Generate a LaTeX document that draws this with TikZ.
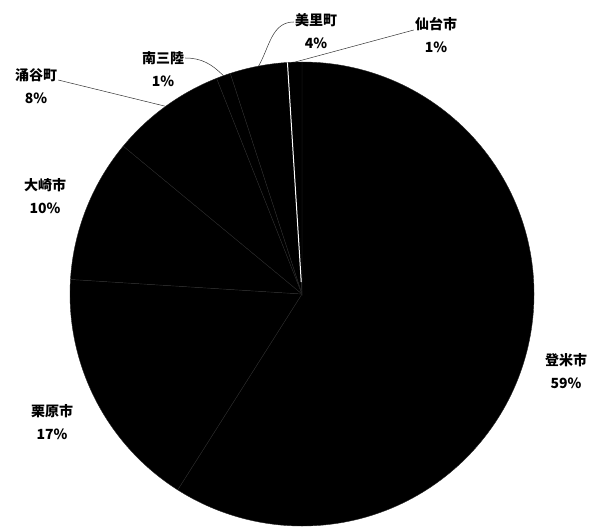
\documentclass[tikz,border=0pt]{standalone}
\usepackage{fontspec}
\usepackage{tikz}
\newfontfamily\jpfont{Noto Sans CJK JP}
\tikzstyle{slice} = [fill=black, draw=black!85, line width=0.4pt]
\tikzstyle{citylabel} = [align=center, inner sep=1pt, font=\jpfont\bfseries\fontsize{14}{23}\selectfont]
\tikzstyle{leader} = [draw=black!80, line width=0.5pt]

\begin{document}
\begin{tikzpicture}[x=1pt, y=-1pt]
  \useasboundingbox (0,0) rectangle (593,529);
  \coordinate (o) at (302,294);

  % slices, clockwise from the top
  \filldraw[slice] (o) -- ++(-90:232) arc[start angle=-90, end angle=122.4, radius=232] -- cycle;
  \filldraw[slice] (o) -- ++(122.4:232) arc[start angle=122.4, end angle=183.6, radius=232] -- cycle;
  \filldraw[slice] (o) -- ++(183.6:232) arc[start angle=183.6, end angle=219.6, radius=232] -- cycle;
  \filldraw[slice] (o) -- ++(219.6:232) arc[start angle=219.6, end angle=248.4, radius=232] -- cycle;
  \filldraw[slice] (o) -- ++(248.4:232) arc[start angle=248.4, end angle=252, radius=232] -- cycle;
  \filldraw[slice] (o) -- ++(252:232) arc[start angle=252, end angle=266.4, radius=232] -- cycle;
  \filldraw[slice] (o) -- ++(266.4:232) arc[start angle=266.4, end angle=270, radius=232] -- cycle;
  \draw[white, line width=1pt] (o) ++(266.4:12) -- ++(266.4:220);

  \node[citylabel] (tome) at (566,371) {登米市\\59\%};
  \node[citylabel] (kurihara) at (52,422) {栗原市\\17\%};
  \node[citylabel] (osaki) at (45,196) {大崎市\\10\%};
  \node[citylabel] (wakuya) at (36,86) {涌谷町\\8\%};
  \node[citylabel] (minami) at (163,69) {南三陸\\1\%};
  \node[citylabel] (misato) at (316,31) {美里町\\4\%};
  \node[citylabel] (sendai) at (436,35) {仙台市\\1\%};

  \path (o) ++(234:232) coordinate (p-wakuya);
  \path (o) ++(250.2:232) coordinate (p-minami);
  \path (o) ++(259.2:232) coordinate (p-misato);
  \path (o) ++(268.2:232) coordinate (p-sendai);

  \draw[leader] ([yshift=6pt]wakuya.east) -- (p-wakuya);
  \draw[leader] ([yshift=11pt]minami.east) to[out=0, in=135] (p-minami);
  \draw[leader] ([yshift=9pt]misato.west) to[out=180, in=60] (p-misato);
  \draw[leader] ([yshift=5pt]sendai.west) -- (p-sendai);

\end{tikzpicture}
\end{document}
